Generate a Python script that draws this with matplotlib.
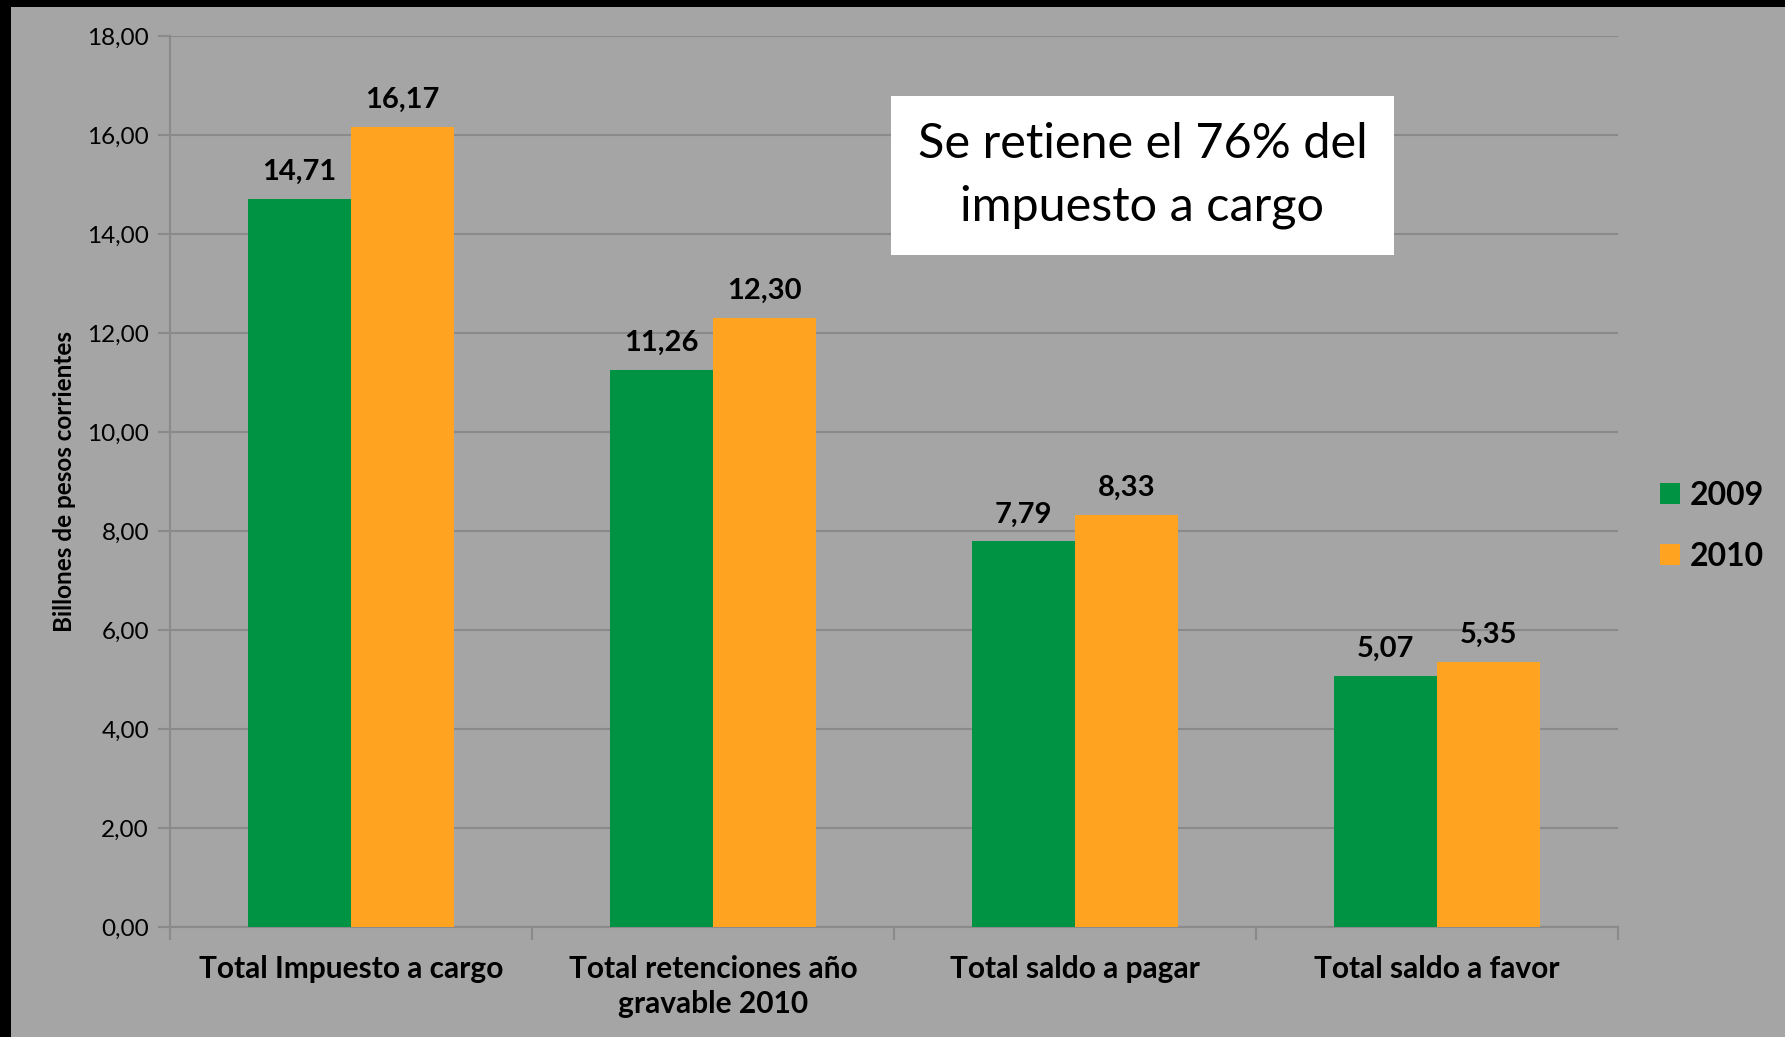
import matplotlib
matplotlib.use("Agg")
import matplotlib.pyplot as plt
from matplotlib.patches import Rectangle
from matplotlib.ticker import FuncFormatter
import numpy as np

categories = ["Total Impuesto a cargo", "Total retenciones año\ngravable 2010",
              "Total saldo a pagar", "Total saldo a favor"]
vals_2009 = [14.71, 11.26, 7.79, 5.07]
vals_2010 = [16.17, 12.30, 8.33, 5.35]
series_names = ["2009", "2010"]
y_ticks = [0, 2, 4, 6, 8, 10, 12, 14, 16, 18]

bg = "#a5a5a5"
green = "#009344"
orange = "#ffa321"
grid_c = "#8a8a8a"

plt.rcParams['font.family'] = ['Lato', 'DejaVu Sans']

fig = plt.figure(figsize=(17.85, 10.37), dpi=100, facecolor=bg)
ax = fig.add_axes([0.0952, 0.1061, 0.8113, 0.8592])
ax.set_facecolor(bg)

x = np.arange(len(categories))
w = 0.285
b1 = ax.bar(x - w / 2, vals_2009, w, color=green, label=series_names[0], zorder=3)
b2 = ax.bar(x + w / 2, vals_2010, w, color=orange, label=series_names[1], zorder=3)

fmt = lambda v: f"{v:.2f}".replace(".", ",")
for bars in (b1, b2):
    ax.bar_label(bars, labels=[fmt(b.get_height()) for b in bars], padding=10,
                 fontsize=21, fontweight='bold', color='black')

ax.set_xlim(-0.5, len(categories) - 0.5)
ax.set_ylim(0, 18)
ax.set_yticks(y_ticks)
ax.yaxis.set_major_formatter(FuncFormatter(lambda v, p: fmt(v)))
ax.grid(axis='y', color=grid_c, linewidth=1.5, zorder=0)
ax.tick_params(axis='y', length=9, width=1.5, color=grid_c, labelsize=17.5, pad=6)

# category boundaries carry the x ticks, labels sit at centres
ax.set_xticks(np.arange(-0.5, len(categories)), minor=False)
ax.set_xticklabels([])
ax.set_xticks(x, minor=True)
ax.set_xticklabels(categories, minor=True, fontsize=21.5, fontweight='bold', linespacing=1.3)
ax.tick_params(axis='x', which='major', length=9, width=1.5, color=grid_c)
ax.tick_params(axis='x', which='minor', length=0, pad=20)

for s in ['top', 'right']:
    ax.spines[s].set_visible(False)
for s in ['left', 'bottom']:
    ax.spines[s].set_color(grid_c)
    ax.spines[s].set_linewidth(1.5)

ax.set_ylabel("Billones de pesos corrientes", fontsize=17.5, fontweight='bold', labelpad=8)

leg = ax.legend(loc='center left', bbox_to_anchor=(0.914, 0.493), bbox_transform=fig.transFigure,
                frameon=False, prop={'size': 23, 'weight': 'bold'},
                handlelength=0.62, handleheight=0.62, handletextpad=0.3, labelspacing=1.0)

fig.text(0.640, 0.831, "Se retiene el 76% del\nimpuesto a cargo", fontsize=35,
         ha='center', va='center', linespacing=1.5,
         bbox=dict(boxstyle='square,pad=0.55', facecolor='white', edgecolor='none'))

# black frame on top and left edges
fig.patches.append(Rectangle((0, 0.9932), 1, 0.0068, transform=fig.transFigure,
                             facecolor='black', edgecolor='none', zorder=10))
fig.patches.append(Rectangle((0, 0), 0.0062, 1, transform=fig.transFigure,
                             facecolor='black', edgecolor='none', zorder=10))

fig.savefig("out.png", dpi=100, facecolor=bg)
